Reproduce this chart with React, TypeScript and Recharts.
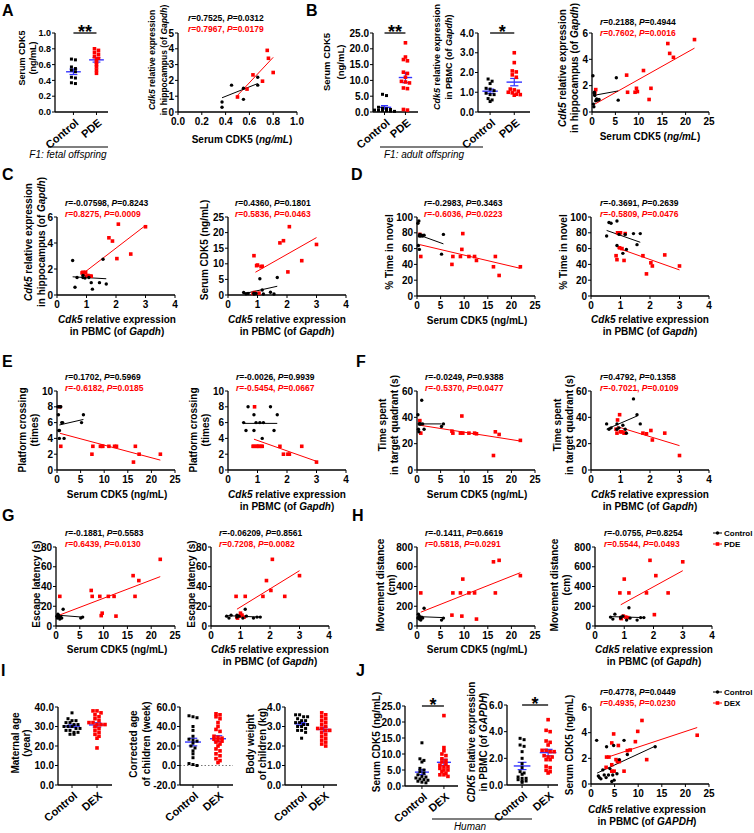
import React from "react";
import { ScatterChart, Scatter, XAxis, YAxis, ReferenceLine } from "recharts";

const FONT = '"Liberation Sans", Arial, Helvetica, sans-serif';
const RED = "#ff0000";
const BLUE = "#3434ff";

type XY = [number, number];
type Box = [number, number, number, number];

// ---------- A: F1 fetal offspring ----------
const fetalSerumCtrl = [0.67, 0.66, 0.57, 0.55, 0.53, 0.51, 0.44, 0.43, 0.37, 0.36];
const fetalSerumPde = [0.8, 0.78, 0.75, 0.73, 0.7, 0.68, 0.66, 0.63, 0.6, 0.57, 0.53, 0.49];
const fetalHippoCtrl: XY[] = [[0.37, 0.63], [0.37, 0.3], [0.45, 1.7], [0.55, 1.5], [0.55, 0.8], [0.67, 2.2], [0.67, 1.7]];
const fetalHippoPde: XY[] = [[0.5, 0.95], [0.58, 1.45], [0.63, 2.35], [0.71, 1.95], [0.75, 3.9], [0.76, 3.4], [0.8, 2.5]];
const fetalFitCtrl: XY[] = [[0.37, 0.9], [0.67, 1.8]];
const fetalFitPde: XY[] = [[0.49, 0.97], [0.8, 3.46]];

// ---------- B-H: F1 adult offspring ----------
const serumCtrl = [0.2, 0.3, 0.4, 0.5, 0.5, 0.6, 0.8, 1.0, 1.2, 1.5, 5.2, 5.6];
const serumPde = [0.6, 0.8, 7.4, 7.6, 9.2, 9.5, 9.7, 11.0, 12.2, 12.6, 16.2, 16.6, 17.4, 21.9];
const pbmcCtrl = [0.53, 0.61, 0.68, 0.88, 0.88, 0.95, 1.08, 1.16, 1.2, 1.44, 1.56, 1.67];
const pbmcPde = [0.85, 0.88, 0.9, 0.97, 1.0, 1.05, 1.12, 1.16, 1.76, 1.88, 2.03, 2.08, 2.5, 3.0];

// y values against serum (same order as serumCtrl / serumPde)
const hippoBySerumCtrl = [2.75, 0.6, 0.4, 1.4, 1.5, 1.25, 0.85, 1.0, 0.9, 0.95, 2.6, 0.9];
const hippoBySerumPde = [1.45, 1.7, 2.8, 1.5, 1.5, 1.8, 1.55, 3.15, 0.95, 1.8, 5.2, 4.45, 4.15, 5.5];
const novelBySerumCtrl = [92, 64, 95, 59, 76, 78, 76, 77, 76, 77, 53, 78];
const novelBySerumPde = [78, 50, 40, 50, 50, 59, 79, 50, 50, 45, 37, 50, 26, 37];
const crossBySerumCtrl = [8, 7, 5, 4, 5, 8, 8, 6, 6, 4, 6, 7];
const crossBySerumPde = [8, 3, 2, 3, 3, 3, 3, 3, 3, 3, 1, 3, 2, 2];
const quadBySerumCtrl = [42, 31, 29, 35, 35, 35, 35, 53, 35, 31, 33, 35];
const quadBySerumPde = [37.5, 28, 29.5, 28, 28, 41, 28, 28, 28, 27.5, 11, 29, 27, 22.5];
const escBySerumCtrl = [10, 8, 12, 9, 11, 10, 7, 9, 8, 17, 8, 9];
const escBySerumPde = [9, 30, 36, 30, 30, 10.5, 13, 30, 30, 10, 51, 30, 46, 67.5];
const moveBySerumCtrl = [80, 120, 90, 70, 100, 85, 60, 90, 80, 180, 60, 80];
const moveBySerumPde = [80, 335, 110, 335, 335, 100, 475, 335, 335, 70, 650, 335, 665, 510];

// y values against PBMC Cdk5 (same order as pbmcCtrl / pbmcPde)
const hippoByPbmcCtrl = [2.65, 0.6, 1.35, 1.35, 1.5, 1.3, 1.35, 0.95, 0.45, 0.95, 2.75, 0.85];
const hippoByPbmcPde = [1.7, 1.75, 1.6, 1.75, 1.45, 1.5, 1.45, 1.45, 4.4, 4.15, 2.8, 5.45, 3.15, 5.25];
const serumByPbmcCtrl = [0.8, 0.4, 0.5, 0.3, 0.6, 0.5, 5.2, 1.6, 0.3, 0.9, 0.3, 5.6];
const serumByPbmcPde = [0.5, 12.6, 0.8, 9.4, 9.6, 0.6, 9.1, 9.2, 16.7, 17.4, 7.4, 21.9, 11.0, 16.2];
const novelByPbmcCtrl = [76, 93, 92, 95, 64, 78, 54, 78, 59, 79, 65, 79];
const novelByPbmcPde = [51, 46, 80, 61, 80, 60, 45, 79, 51, 28, 42, 38, 52, 38];
const crossByPbmcCtrl = [6, 5, 8, 7, 5, 6, 6, 4, 6, 8, 5, 7];
const crossByPbmcPde = [3, 3, 8, 3, 3, 3, 3, 3, 3, 2, 2, 2, 3, 1];
const quadByPbmcCtrl = [35, 31, 32, 35, 31, 32, 34, 31, 28, 54, 42, 35];
const quadByPbmcPde = [31, 28, 38, 42, 29, 29, 28, 28, 28, 27.5, 30, 22.8, 28, 11];
const escByPbmcCtrl = [10, 8, 11, 9, 11, 10, 8, 17, 10, 8, 9, 9];
const escByPbmcPde = [30, 9, 8, 10, 13, 11, 9, 30, 30, 46, 36, 67.5, 30, 51];
const moveByPbmcCtrl = [90, 70, 120, 90, 80, 100, 60, 185, 80, 60, 85, 85];
const moveByPbmcPde = [335, 80, 75, 100, 475, 90, 85, 335, 335, 665, 115, 510, 335, 650];

// fitted lines: [[x1, y1], [x2, y2]]
const fitB3 = { c: [[0.2, 1.25], [5.6, 1.6]] as XY[], t: [[0.6, 0.6], [21.9, 4.85]] as XY[] };
const fitC1 = { c: [[0.53, 1.4], [1.67, 1.25]] as XY[], t: [[0.85, 1.6], [3.0, 5.35]] as XY[] };
const fitC2 = { c: [[0.53, 0.4], [1.67, 2.8]] as XY[], t: [[0.93, 7.3], [3.0, 18.4]] as XY[] };
const fitD1 = { c: [[0.5, 77], [5.6, 66]] as XY[], t: [[0.6, 65], [21.9, 35]] as XY[] };
const fitD2 = { c: [[0.53, 83], [1.67, 68]] as XY[], t: [[0.88, 61], [3.0, 33]] as XY[] };
const fitE1 = { c: [[0.5, 5.7], [5.6, 6.4]] as XY[], t: [[0.6, 4.65], [21.9, 1.25]] as XY[] };
const fitE2 = { c: [[0.53, 5.9], [1.67, 5.9]] as XY[], t: [[0.88, 3.9], [3.0, 1.1]] as XY[] };
const fitF1 = { c: [[0.2, 35], [5.2, 35]] as XY[], t: [[0.6, 34], [21.9, 22]] as XY[] };
const fitF2 = { c: [[0.53, 31], [1.56, 41]] as XY[], t: [[0.88, 33], [3.0, 18.5]] as XY[] };
const fitG1 = { c: [[0.2, 11], [5.6, 9]] as XY[], t: [[0.7, 11], [21.9, 50]] as XY[] };
const fitG2 = { c: [[0.53, 10.5], [1.67, 9]] as XY[], t: [[0.88, 17], [3.0, 56]] as XY[] };
const fitH1 = { c: [[0.3, 95], [5.6, 85]] as XY[], t: [[0.8, 140], [21.9, 540]] as XY[] };
const fitH2 = { c: [[0.53, 95], [1.67, 85]] as XY[], t: [[0.88, 215], [3.0, 560]] as XY[] };

// ---------- I / J: human ----------
const maternalCtrl = [37, 34, 33, 33, 32, 32, 31, 31, 30, 30, 30, 29, 29, 28, 28, 27, 27, 26, 26];
const maternalDex = [38, 38, 37, 36, 35, 34, 33, 32, 32, 31, 31, 31, 30, 29, 28, 27, 26, 25, 24, 19];
const ageCtrl = [51, 50, 49, 40, 36, 30, 27, 26, 25, 23, 20, 18, 15, 12, 8, 2, 1, 0];
const ageDex = [53, 52, 50, 48, 44, 40, 37, 35, 30, 29, 28, 27, 26, 25, 24, 22, 20, 17, 15, 12, 10, 7, 5, 3];
const weightCtrl = [3.6, 3.6, 3.5, 3.5, 3.4, 3.3, 3.3, 3.2, 3.2, 3.1, 3.1, 3.0, 3.0, 2.9, 2.8, 2.8, 2.7, 2.4];
const weightDex = [3.7, 3.6, 3.5, 3.4, 3.3, 3.2, 3.1, 3.0, 2.9, 2.9, 2.8, 2.8, 2.7, 2.6, 2.5, 2.4, 2.3, 2.2, 2.1, 2.0];
const humanSerumCtrl = [13.5, 8.5, 8, 7.5, 5.5, 5, 4.5, 4, 3.5, 3, 2.8, 2.5, 2.2, 2, 1.8, 1.5, 1.2, 1];
const humanSerumDex = [22, 12, 11, 10, 9.5, 8.5, 8, 7.5, 7, 6.5, 6, 6, 5.5, 5, 5, 4.5, 4, 3.5, 3.5, 3];
const humanPbmcCtrl = [3.5, 3.4, 3.0, 2.9, 2.5, 2.0, 1.6, 1.3, 1.0, 0.9, 0.8, 0.6, 0.5, 0.5, 0.4, 0.3, 0.3, 0.2];
const humanPbmcDex = [4.9, 4.1, 4.0, 3.3, 3.2, 3.0, 2.6, 2.6, 2.5, 2.5, 2.2, 2.1, 2.1, 1.9, 1.9, 1.4, 1.3, 1.1, 1.0, 0.9];
const humanCorrCtrl: XY[] = [[1.2, 3.4], [1.56, 0.63], [1.8, 0.5], [2.1, 0.4], [2.5, 1.1], [2.8, 0.7], [3.2, 0.5], [3.3, 2.9], [3.7, 0.7], [4.0, 1.2], [4.4, 0.2], [4.6, 0.7], [4.8, 3.0], [4.9, 0.3], [5.5, 0.8], [6.0, 1.9], [7.0, 3.4], [7.7, 2.3], [13.6, 2.9]];
const humanCorrDex: XY[] = [[3.2, 1.3], [3.3, 2.1], [3.8, 2.1], [4.4, 3.2], [4.8, 3.9], [4.4, 1.0], [4.9, 1.0], [5.3, 1.9], [5.6, 1.75], [5.8, 3.0], [6.0, 1.75], [7.0, 1.0], [7.7, 2.6], [8.3, 2.65], [9.4, 3.3], [9.9, 4.1], [10.8, 4.95], [11.8, 1.9], [22.5, 3.8], [4.4, 1.5]];
const fitJ3 = { c: [[1.3, 0.85], [13.6, 2.95]] as XY[], t: [[3.2, 2.05], [22.5, 4.4]] as XY[] };

// tick values
const t25 = [0, 5, 10, 15, 20, 25];
const t4 = [0, 1, 2, 3, 4];
const t6 = [0, 2, 4, 6];

const YW = 36;
const PT = 6;
const PR = 8;
const XH = 22;
const XH_DOT = 44;

const tickStyle = (size = 10) => ({ fill: "#000", fontSize: size, fontWeight: 700, fontFamily: FONT });
const LINE = { stroke: "#000", strokeWidth: 1 };
const AXIS = { stroke: "#000", strokeWidth: 1.3 };

const zip = (xs: number[], ys: number[]) => xs.map((x, i) => ({ x, y: ys[i] }));
const pairs = (p: XY[]) => p.map(([x, y]) => ({ x, y }));

const redSquare = (p: any) => <rect x={p.cx - 1.8} y={p.cy - 1.8} width={3.6} height={3.6} fill={RED} />;
const blackDot = (p: any) => <circle cx={p.cx} cy={p.cy} r={1.7} fill="#000" />;
const blackSquare = (p: any) => <rect x={p.cx - 1.5} y={p.cy - 1.5} width={3} height={3} fill="#000" />;

function Corr(p: { box: Box; xMax: number; xTicks: number[]; xDec?: number; yMax: number; yTicks: number[]; ctrl: any[]; trt: any[]; fit: { c: XY[]; t: XY[] } }) {
  const [x, y, w, h] = p.box;
  return (
    <div style={{ position: "absolute", left: x - YW, top: y - PT }}>
      <ScatterChart width={w + YW + PR} height={h + PT + XH} margin={{ top: PT, right: PR, bottom: 0, left: 0 }}>
        <XAxis type="number" dataKey="x" domain={[0, p.xMax]} ticks={p.xTicks} interval={0} height={XH} tickSize={3} tickMargin={3}
          tick={tickStyle()} tickLine={LINE} axisLine={AXIS} tickFormatter={(v: number) => v.toFixed(p.xDec ?? 0)} />
        <YAxis type="number" dataKey="y" domain={[0, p.yMax]} ticks={p.yTicks} interval={0} width={YW} tickSize={3} tickMargin={1}
          tick={tickStyle()} tickLine={LINE} axisLine={AXIS} />
        <Scatter data={p.trt} shape={redSquare} isAnimationActive={false} />
        <Scatter data={p.ctrl} shape={blackDot} isAnimationActive={false} />
        <ReferenceLine segment={pairs(p.fit.t)} stroke={RED} strokeWidth={1} ifOverflow="visible" />
        <ReferenceLine segment={pairs(p.fit.c)} stroke="#000" strokeWidth={1} ifOverflow="visible" />
      </ScatterChart>
    </div>
  );
}

function spread(vals: number[], center: number, tol: number, step: number) {
  const sorted = [...vals].sort((a, b) => b - a);
  const rows: number[][] = [];
  sorted.forEach((v) => {
    const row = rows[rows.length - 1];
    if (row && row[0] - v <= tol && row.length < 6) row.push(v);
    else rows.push([v]);
  });
  return rows.flatMap((row) => row.map((v, i) => ({ x: center + (i - (row.length - 1) / 2) * step, y: v })));
}

function meanSem(g: number[]) {
  const m = g.reduce((a, b) => a + b, 0) / g.length;
  const sd = Math.sqrt(g.reduce((a, b) => a + (b - m) ** 2, 0) / (g.length - 1));
  return [m, sd / Math.sqrt(g.length)];
}

const catTick = (names: string[]) => (props: any) => {
  const { x, y, payload } = props;
  const ax = x + 6;
  const ay = y + 7;
  return (
    <text x={ax} y={ay} transform={`rotate(-40 ${ax} ${ay})`} textAnchor="end" fontSize={11} fontWeight={700} fontFamily={FONT} fill="#000">
      {names[Math.round(payload.value) - 1]}
    </text>
  );
};

function Dots(p: { box: Box; dom: [number, number]; yMin?: number; yMax: number; yTicks: number[]; groups: number[][]; names: string[]; sig?: string; zero?: boolean; tickSize?: number }) {
  const [x, y, w, h] = p.box;
  const yMin = p.yMin ?? 0;
  const span = p.yMax - yMin;
  const unitsPerPx = (p.dom[1] - p.dom[0]) / w;
  const step = 4 * unitsPerPx;
  const tol = span * 0.03;
  const c = spread(p.groups[0], 1, tol, step);
  const t = spread(p.groups[1], 2, tol, step);
  const stats = p.groups.map(meanSem);
  const starX = x + ((1.5 - p.dom[0]) / (p.dom[1] - p.dom[0])) * w;
  return (
    <>
      <div style={{ position: "absolute", left: x - YW, top: y - PT }}>
        <ScatterChart width={w + YW + PR} height={h + PT + XH_DOT} margin={{ top: PT, right: PR, bottom: 0, left: 0 }}>
          <XAxis type="number" dataKey="x" domain={p.dom} ticks={[1, 2]} interval={0} height={XH_DOT} tickSize={3}
            tick={catTick(p.names)} tickLine={LINE} axisLine={AXIS} />
          <YAxis type="number" dataKey="y" domain={[yMin, p.yMax]} ticks={p.yTicks} interval={0} width={YW} tickSize={3} tickMargin={1}
            tick={tickStyle(p.tickSize ?? 10)} tickLine={LINE} axisLine={AXIS} tickFormatter={(v: number) => v.toFixed(1)} />
          {p.zero && <ReferenceLine y={0} stroke="#777" strokeDasharray="1.5 2" />}
          <Scatter data={c} shape={blackSquare} isAnimationActive={false} />
          <Scatter data={t} shape={redSquare} isAnimationActive={false} />
          {stats.map(([m, se], i) => {
            const cx = i + 1;
            return (
              <React.Fragment key={i}>
                <ReferenceLine segment={[{ x: cx - 0.32, y: m }, { x: cx + 0.32, y: m }]} stroke={BLUE} strokeWidth={1.4} ifOverflow="visible" />
                <ReferenceLine segment={[{ x: cx, y: m - se }, { x: cx, y: m + se }]} stroke={BLUE} strokeWidth={1.2} ifOverflow="visible" />
                <ReferenceLine segment={[{ x: cx - 0.17, y: m + se }, { x: cx + 0.17, y: m + se }]} stroke={BLUE} strokeWidth={1.2} ifOverflow="visible" />
                <ReferenceLine segment={[{ x: cx - 0.17, y: m - se }, { x: cx + 0.17, y: m - se }]} stroke={BLUE} strokeWidth={1.2} ifOverflow="visible" />
              </React.Fragment>
            );
          })}
          {p.sig && <ReferenceLine segment={[{ x: 1, y: p.yMax }, { x: 2, y: p.yMax }]} stroke="#000" strokeWidth={1.3} ifOverflow="visible" />}
        </ScatterChart>
      </div>
      {p.sig && (
        <svg style={{ position: "absolute", left: 0, top: 0, overflow: "visible" }} width={1} height={1}>
          <text x={starX} y={y + 5} textAnchor="middle" fontSize={18} fontWeight={700} fontFamily={FONT}>{p.sig}</text>
        </svg>
      )}
    </>
  );
}

function rich(s: string) {
  return s.split("*").map((part, i) => (
    <tspan key={i} fontStyle={i % 2 ? "italic" : undefined}>{part}</tspan>
  ));
}

function YT({ xs, cy, lines, size = 10 }: { xs: number[]; cy: number; lines: string[]; size?: number }) {
  return (
    <>
      {lines.map((s, i) => (
        <text key={i} x={xs[i]} y={cy} transform={`rotate(-90 ${xs[i]} ${cy})`} textAnchor="middle" dominantBaseline="central" fontSize={size} fontWeight={700}>
          {rich(s)}
        </text>
      ))}
    </>
  );
}

function XT({ cx, ys, lines }: { cx: number; ys: number[]; lines: string[] }) {
  return (
    <>
      {lines.map((s, i) => (
        <text key={i} x={cx} y={ys[i]} textAnchor="middle" fontSize={10} fontWeight={700}>{rich(s)}</text>
      ))}
    </>
  );
}

function RT({ x, y, a, b }: { x: number; y: number; a: string; b: string }) {
  return (
    <>
      <text x={x} y={y} fontSize={8.5} fontWeight={700}>{rich(a)}</text>
      <text x={x} y={y + 11} fontSize={8.5} fontWeight={700} fill={RED}>{rich(b)}</text>
    </>
  );
}

function Group({ cx, y, x1, x2, s }: { cx: number; y: number; x1: number; x2: number; s: string }) {
  return (
    <>
      <line x1={x1} x2={x2} y1={y} y2={y} stroke="#000" strokeWidth={1.2} />
      <text x={cx} y={y + 11} textAnchor="middle" fontSize={10} fontStyle="italic">{s}</text>
    </>
  );
}

function Legend({ x, y, names }: { x: number; y: number; names: string[] }) {
  return (
    <>
      <line x1={x} x2={x + 9} y1={y} y2={y} stroke="#000" />
      <circle cx={x + 4.5} cy={y} r={1.7} fill="#000" />
      <text x={x + 11} y={y + 3} fontSize={8} fontWeight={700}>{names[0]}</text>
      <line x1={x} x2={x + 9} y1={y + 11} y2={y + 11} stroke={RED} />
      <rect x={x + 2.7} y={y + 9.2} width={3.6} height={3.6} fill={RED} />
      <text x={x + 11} y={y + 14} fontSize={8} fontWeight={700}>{names[1]}</text>
    </>
  );
}

const CP = ["Control", "PDE"];
const CD = ["Control", "DEX"];
const HIPPO = ["*Cdk5* relative expression", "in hippocampus (of *Gapdh*)"];
const PBMC = ["*Cdk5* relative expression", "in PBMC (of *Gapdh*)"];

export default function App() {
  return (
    <div style={{ position: "absolute", left: 0, top: 0, width: 754, height: 833, background: "#fff", fontFamily: FONT }}>
      {/* Row 1 */}
      <Dots box={[55, 33, 53, 79]} dom={[0.2, 2.5]} yMax={1} yTicks={[0, 0.2, 0.4, 0.6, 0.8, 1]} groups={[fetalSerumCtrl, fetalSerumPde]} names={CP} sig="**" tickSize={9} />
      <Corr box={[178, 33, 119, 79]} xMax={1} xTicks={[0, 0.2, 0.4, 0.6, 0.8, 1]} xDec={1} yMax={5} yTicks={[0, 1, 2, 3, 4, 5]}
        ctrl={pairs(fetalHippoCtrl)} trt={pairs(fetalHippoPde)} fit={{ c: fetalFitCtrl, t: fetalFitPde }} />
      <Dots box={[373, 33, 45, 79]} dom={[0.45, 2.6]} yMax={25} yTicks={t25} groups={[serumCtrl, serumPde]} names={CP} sig="**" />
      <Dots box={[478, 33, 52, 79]} dom={[0.5, 2.65]} yMax={4} yTicks={t4} groups={[pbmcCtrl, pbmcPde]} names={CP} sig="*" />
      <Corr box={[592, 33, 117, 79]} xMax={25} xTicks={t25} yMax={6} yTicks={t6}
        ctrl={zip(serumCtrl, hippoBySerumCtrl)} trt={zip(serumPde, hippoBySerumPde)} fit={fitB3} />

      {/* Row 2 */}
      <Corr box={[57, 217, 118, 78]} xMax={4} xTicks={t4} yMax={6} yTicks={t6}
        ctrl={zip(pbmcCtrl, hippoByPbmcCtrl)} trt={zip(pbmcPde, hippoByPbmcPde)} fit={fitC1} />
      <Corr box={[228, 217, 118, 78]} xMax={4} xTicks={t4} yMax={25} yTicks={t25}
        ctrl={zip(pbmcCtrl, serumByPbmcCtrl)} trt={zip(pbmcPde, serumByPbmcPde)} fit={fitC2} />
      <Corr box={[417, 217, 118, 79]} xMax={25} xTicks={t25} yMax={100} yTicks={[0, 20, 40, 60, 80, 100]}
        ctrl={zip(serumCtrl, novelBySerumCtrl)} trt={zip(serumPde, novelBySerumPde)} fit={fitD1} />
      <Corr box={[591, 217, 118, 79]} xMax={4} xTicks={t4} yMax={100} yTicks={[0, 20, 40, 60, 80, 100]}
        ctrl={zip(pbmcCtrl, novelByPbmcCtrl)} trt={zip(pbmcPde, novelByPbmcPde)} fit={fitD2} />

      {/* Row 3 */}
      <Corr box={[57, 391, 118, 79]} xMax={25} xTicks={t25} yMax={10} yTicks={[0, 2, 4, 6, 8, 10]}
        ctrl={zip(serumCtrl, crossBySerumCtrl)} trt={zip(serumPde, crossBySerumPde)} fit={fitE1} />
      <Corr box={[228, 391, 118, 79]} xMax={4} xTicks={t4} yMax={10} yTicks={[0, 2, 4, 6, 8, 10]}
        ctrl={zip(pbmcCtrl, crossByPbmcCtrl)} trt={zip(pbmcPde, crossByPbmcPde)} fit={fitE2} />
      <Corr box={[417, 391, 118, 79]} xMax={25} xTicks={t25} yMax={60} yTicks={[0, 20, 40, 60]}
        ctrl={zip(serumCtrl, quadBySerumCtrl)} trt={zip(serumPde, quadBySerumPde)} fit={fitF1} />
      <Corr box={[591, 391, 118, 79]} xMax={4} xTicks={t4} yMax={60} yTicks={[0, 20, 40, 60]}
        ctrl={zip(pbmcCtrl, quadByPbmcCtrl)} trt={zip(pbmcPde, quadByPbmcPde)} fit={fitF2} />

      {/* Row 4 */}
      <Corr box={[56, 547, 119, 79]} xMax={25} xTicks={t25} yMax={80} yTicks={[0, 20, 40, 60, 80]}
        ctrl={zip(serumCtrl, escBySerumCtrl)} trt={zip(serumPde, escBySerumPde)} fit={fitG1} />
      <Corr box={[211, 547, 118, 79]} xMax={4} xTicks={t4} yMax={80} yTicks={[0, 20, 40, 60, 80]}
        ctrl={zip(pbmcCtrl, escByPbmcCtrl)} trt={zip(pbmcPde, escByPbmcPde)} fit={fitG2} />
      <Corr box={[417, 547, 118, 79]} xMax={25} xTicks={t25} yMax={800} yTicks={[0, 200, 400, 600, 800]}
        ctrl={zip(serumCtrl, moveBySerumCtrl)} trt={zip(serumPde, moveBySerumPde)} fit={fitH1} />
      <Corr box={[595, 547, 117, 79]} xMax={4} xTicks={t4} yMax={800} yTicks={[0, 200, 400, 600, 800]}
        ctrl={zip(pbmcCtrl, moveByPbmcCtrl)} trt={zip(pbmcPde, moveByPbmcPde)} fit={fitH2} />

      {/* Row 5 */}
      <Dots box={[58, 707, 54, 78]} dom={[0.44, 2.6]} yMax={40} yTicks={[0, 10, 20, 30, 40]} groups={[maternalCtrl, maternalDex]} names={CD} />
      <Dots box={[180, 707, 53, 78]} dom={[0.48, 2.6]} yMin={-20} yMax={60} yTicks={[-20, 0, 20, 40, 60]} groups={[ageCtrl, ageDex]} names={CD} zero />
      <Dots box={[285, 707, 52, 78]} dom={[0.25, 2.6]} yMax={4} yTicks={t4} groups={[weightCtrl, weightDex]} names={CD} />
      <Dots box={[405, 706, 53, 80]} dom={[0.23, 2.64]} yMax={25} yTicks={t25} groups={[humanSerumCtrl, humanSerumDex]} names={CD} sig="*" />
      <Dots box={[507, 705, 51, 80]} dom={[0.42, 2.38]} yMax={6} yTicks={t6} groups={[humanPbmcCtrl, humanPbmcDex]} names={CD} sig="*" />
      <Corr box={[591, 707, 118, 77]} xMax={25} xTicks={t25} yMax={6} yTicks={t6}
        ctrl={pairs(humanCorrCtrl)} trt={pairs(humanCorrDex)} fit={fitJ3} />

      {/* text overlay */}
      <svg width={754} height={833} style={{ position: "absolute", left: 0, top: 0, pointerEvents: "none" }} fontFamily={FONT}>
        {[["A", 2, 16], ["B", 306, 16], ["C", 2, 180], ["D", 351, 180], ["E", 2, 367], ["F", 356, 367], ["G", 2, 521], ["H", 352, 521], ["I", 1, 676], ["J", 356, 676]].map(([s, x, y]) => (
          <text key={s as string} x={x as number} y={y as number} fontSize={16} fontWeight={700}>{s}</text>
        ))}

        <YT xs={[22, 33]} cy={58} lines={["Serum CDK5", "(ng/mL)"]} size={9} />
        <YT xs={[152, 164]} cy={60} lines={HIPPO} size={8.5} />
        <YT xs={[326, 340]} cy={62} lines={["Serum CDK5", "(ng/mL)"]} size={9.5} />
        <YT xs={[437, 449]} cy={57} lines={PBMC} size={9} />
        <YT xs={[562, 574]} cy={68} lines={HIPPO} />
        <XT cx={242} ys={[143]} lines={["Serum CDK5 (*ng/mL*)"]} />
        <XT cx={650} ys={[140]} lines={["Serum CDK5 (*ng/mL*)"]} />
        <Group cx={68} y={147} x1={48} x2={108} s="F1: fetal offspring" />
        <Group cx={424} y={147} x1={380} x2={483} s="F1: adult offspring" />
        <RT x={188} y={21} a="*r*=0.7525, *P*=0.0312" b="*r*=0.7967, *P*=0.0179" />
        <RT x={600} y={25} a="*r*=0.2188, *P*=0.4944" b="*r*=0.7602, *P*=0.0016" />

        <YT xs={[28, 41]} cy={242} lines={HIPPO} />
        <YT xs={[204]} cy={250} lines={["Serum CDK5 (ng/mL)"]} />
        <YT xs={[389]} cy={252} lines={["% Time in novel"]} />
        <YT xs={[563]} cy={252} lines={["% Time in novel"]} />
        <XT cx={117} ys={[323, 335]} lines={PBMC} />
        <XT cx={287} ys={[323, 335]} lines={PBMC} />
        <XT cx={477} ys={[324]} lines={["Serum CDK5 (ng/mL)"]} />
        <XT cx={650} ys={[323, 335]} lines={PBMC} />
        <RT x={65} y={206} a="*r*=-0.07598, *P*=0.8243" b="*r*=0.8275, *P*=0.0009" />
        <RT x={235} y={206} a="*r*=0.4360, *P*=0.1801" b="*r*=0.5836, *P*=0.0463" />
        <RT x={424} y={206} a="*r*=-0.2983, *P*=0.3463" b="*r*=-0.6036, *P*=0.0223" />
        <RT x={600} y={206} a="*r*=-0.3691, *P*=0.2639" b="*r*=-0.5809, *P*=0.0476" />

        <YT xs={[22, 34]} cy={430} lines={["Platform crossing", "(times)"]} />
        <YT xs={[193, 205]} cy={430} lines={["Platform crossing", "(times)"]} />
        <YT xs={[382, 394]} cy={425} lines={["Time spent", "in target quadrant (s)"]} />
        <YT xs={[557, 569]} cy={425} lines={["Time spent", "in target quadrant (s)"]} />
        <XT cx={117} ys={[498]} lines={["Serum CDK5 (ng/mL)"]} />
        <XT cx={287} ys={[498, 510]} lines={PBMC} />
        <XT cx={477} ys={[498]} lines={["Serum CDK5 (ng/mL)"]} />
        <XT cx={650} ys={[498, 510]} lines={PBMC} />
        <RT x={65} y={380} a="*r*=0.1702, *P*=0.5969" b="*r*=-0.6182, *P*=0.0185" />
        <RT x={236} y={380} a="*r*=-0.0026, *P*=0.9939" b="*r*=-0.5454, *P*=0.0667" />
        <RT x={425} y={380} a="*r*=-0.0249, *P*=0.9388" b="*r*=-0.5370, *P*=0.0477" />
        <RT x={600} y={380} a="*r*=0.4792, *P*=0.1358" b="*r*=-0.7021, *P*=0.0109" />

        <YT xs={[36]} cy={584} lines={["Escape latency (s)"]} />
        <YT xs={[191]} cy={584} lines={["Escape latency (s)"]} />
        <YT xs={[380, 391]} cy={585} lines={["Movement distance", "(cm)"]} />
        <YT xs={[554, 566]} cy={585} lines={["Movement distance", "(cm)"]} />
        <XT cx={117} ys={[653]} lines={["Serum CDK5 (ng/mL)"]} />
        <XT cx={270} ys={[653, 665]} lines={PBMC} />
        <XT cx={477} ys={[653]} lines={["Serum CDK5 (ng/mL)"]} />
        <XT cx={654} ys={[653, 665]} lines={PBMC} />
        <RT x={65} y={536} a="*r*=-0.1881, *P*=0.5583" b="*r*=0.6439, *P*=0.0130" />
        <RT x={219} y={536} a="*r*=-0.06209, *P*=0.8561" b="*r*=0.7208, *P*=0.0082" />
        <RT x={425} y={536} a="*r*=-0.1411, *P*=0.6619" b="*r*=0.5818, *P*=0.0291" />
        <RT x={604} y={536} a="*r*=-0.0755, *P*=0.8254" b="*r*=0.5544, *P*=0.0493" />
        <Legend x={713} y={533} names={CP} />

        <YT xs={[15, 26]} cy={743} lines={["Maternal age", "(year)"]} />
        <YT xs={[133, 146]} cy={744} lines={["Corrected age", "of children (week)"]} />
        <YT xs={[250, 262]} cy={744} lines={["Body weight", "of children (kg)"]} />
        <YT xs={[376]} cy={742} lines={["Serum CDK5 (ng/mL)"]} />
        <YT xs={[471, 483]} cy={742} lines={["*CDK5* relative expression", "in PBMC (of *GAPDH*)"]} />
        <YT xs={[569]} cy={745} lines={["Serum CDK5 (ng/mL)"]} />
        <XT cx={647} ys={[813, 825]} lines={["*Cdk5* relative expression", "in PBMC (of *GAPDH*)"]} />
        <RT x={600} y={695} a="*r*=0.4778, *P*=0.0449" b="*r*=0.4935, *P*=0.0230" />
        <Legend x={713} y={692} names={CD} />
        <Group cx={470} y={819} x1={432} x2={532} s="Human" />
      </svg>
    </div>
  );
}
